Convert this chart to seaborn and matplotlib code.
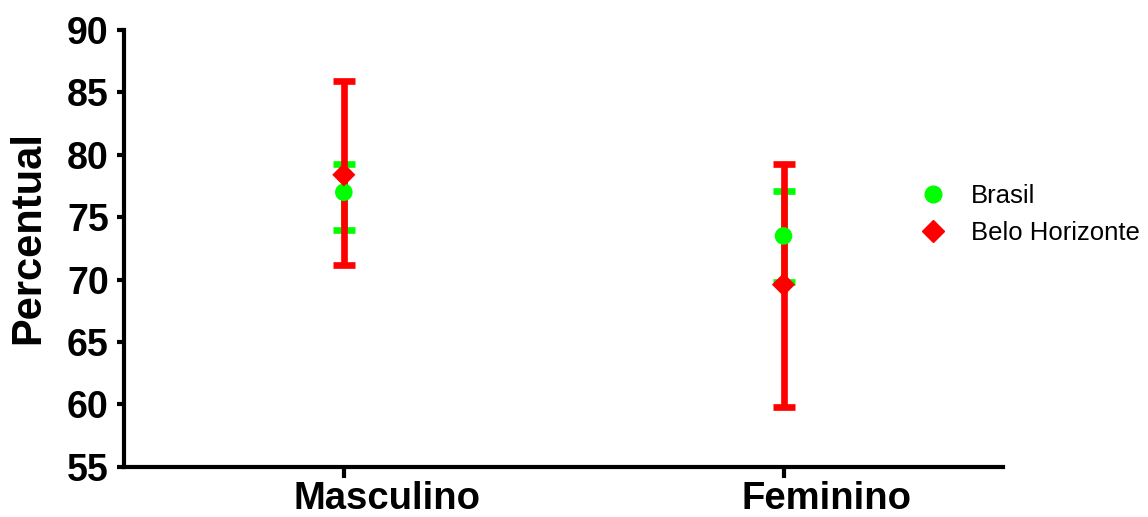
import pandas as pd
import numpy as np
import matplotlib.pyplot as plt
import matplotlib.transforms as mtransforms
import seaborn as sns
from matplotlib.lines import Line2D

categorias = ['Masculino', 'Feminino']
brasil_media = [77.0, 73.5]
brasil_inf = [74.0, 69.8]
brasil_sup = [79.3, 77.1]
bh_media = [78.4, 69.6]
bh_inf = [71.2, 59.8]
bh_sup = [85.9, 79.3]

sns.set_style('ticks')
plt.rcParams['font.family'] = ['Liberation Sans', 'DejaVu Sans']
for k in ['text.color', 'axes.labelcolor', 'xtick.color', 'ytick.color', 'axes.edgecolor']:
    plt.rcParams[k] = 'black'

df = pd.DataFrame({
    'sexo': categorias * 2,
    'pos': [0, 1] * 2,
    'grupo': ['Brasil'] * 2 + ['Belo Horizonte'] * 2,
    'media': brasil_media + bh_media,
    'inf': brasil_inf + bh_inf,
    'sup': brasil_sup + bh_sup,
})

cores = {'Brasil': '#00ff00', 'Belo Horizonte': '#ff0000'}
marcadores = {'Brasil': 'o', 'Belo Horizonte': 'D'}
tamanhos = {'Brasil': 160, 'Belo Horizonte': 140}

fig = plt.figure(figsize=(11.48, 5.17), dpi=100)
ax = fig.add_axes([0.108, 0.097, 0.766, 0.845])

for grupo in ['Brasil', 'Belo Horizonte']:
    d = df[df['grupo'] == grupo]
    ax.errorbar(d['pos'], d['media'],
                yerr=[d['media'] - d['inf'], d['sup'] - d['media']],
                fmt='none', ecolor=cores[grupo], elinewidth=4.8,
                capsize=8, capthick=4.8, zorder=2)
    sns.scatterplot(data=d, x='pos', y='media', color=cores[grupo],
                    marker=marcadores[grupo], s=tamanhos[grupo],
                    edgecolor='none', ax=ax, zorder=3, legend=False)

ax.set_xlim(-0.5, 1.5)
ax.set_ylim(55, 90)
ax.set_yticks(np.arange(55, 91, 5))
ax.set_xticks([0, 1])
ax.set_xticklabels(categorias)
ax.set_xlabel('')
ax.set_ylabel('Percentual', fontsize=30, fontweight='bold')
ax.yaxis.set_label_coords(-0.086, 0.525)
ax.tick_params(axis='y', width=3, length=5, pad=6, labelsize=27)
ax.tick_params(axis='x', width=3, length=8, pad=2, labelsize=27.5)
for lab in ax.get_xticklabels() + ax.get_yticklabels():
    lab.set_fontweight('bold')
# os rotulos do eixo x ficam deslocados para a direita, como no original
desloc = mtransforms.ScaledTranslation(0.43, 0, fig.dpi_scale_trans)
for lab in ax.get_xticklabels():
    lab.set_transform(lab.get_transform() + desloc)

sns.despine(ax=ax)
for s in ['left', 'bottom']:
    ax.spines[s].set_linewidth(3)

handles = [
    Line2D([], [], linestyle='none', marker='o', color='#00ff00', markersize=12),
    Line2D([], [], linestyle='none', marker='D', color='#ff0000', markersize=11),
]
fig.legend(handles, ['Brasil', 'Belo Horizonte'], loc='center left',
           bbox_to_anchor=(0.77, 0.585), frameon=False, fontsize=18.5,
           handletextpad=0.5, labelspacing=0.5)

plt.savefig('out.png', dpi=100)
plt.close()
